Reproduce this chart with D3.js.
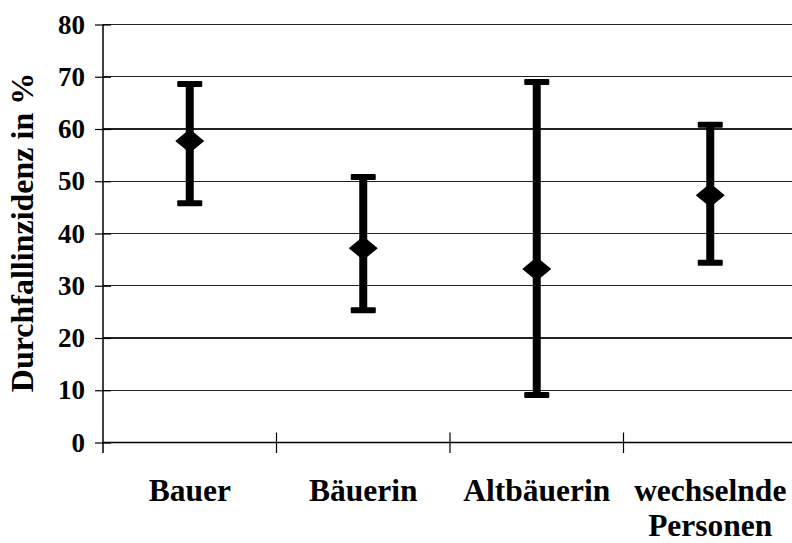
<!DOCTYPE html>
<html><head><meta charset="utf-8">
<script src="https://cdn.jsdelivr.net/npm/d3@7"></script>
<style>body{margin:0;background:#fff}svg{display:block}</style>
</head><body>
<svg id="c" width="792" height="543"></svg>
<script>
const categories = [["Bauer"], ["Bäuerin"], ["Altbäuerin"], ["wechselnde", "Personen"]];
const means = [57.7, 37.2, 33.2, 47.3];
const upper = [68.6, 50.8, 69.0, 60.8];
const lower = [45.8, 25.3, 9.1, 34.4];
const yTicks = [0, 10, 20, 30, 40, 50, 60, 70, 80];
const yTitle = "Durchfallinzidenz in %";

const svg = d3.select("#c");
const font = "'Liberation Serif','Times New Roman',serif";
const x0 = 103, x1 = 797, yTop = 24.5, yBot = 442.5;
const x = d3.scaleBand().domain(d3.range(categories.length)).range([x0, x1]);
const y = d3.scaleLinear().domain([0, 80]).range([yBot, yTop]);

// gridlines
svg.append("g").selectAll("line").data(yTicks.filter(d => d > 0)).join("line")
  .attr("x1", x0).attr("x2", x1).attr("y1", d => y(d)).attr("y2", d => y(d))
  .attr("stroke", "#222").attr("stroke-width", 1.2).attr("shape-rendering", "crispEdges");

// y axis
const ya = svg.append("g").attr("transform", `translate(${x0},0)`)
  .call(d3.axisLeft(y).tickValues(yTicks).tickSize(8).tickPadding(10));
ya.select(".domain").remove();
ya.selectAll(".tick line").attr("x2", 8).attr("x1", -8).attr("stroke", "#000").attr("stroke-width", 1.2);
ya.selectAll(".tick text").attr("font-family", font).attr("font-weight", "bold")
  .attr("font-size", 27).attr("fill", "#000").attr("x", -18);
svg.append("line").attr("x1", x0).attr("x2", x0).attr("y1", yTop).attr("y2", yBot + 10.5)
  .attr("stroke", "#000").attr("stroke-width", 1.5);

// x axis
svg.append("line").attr("x1", x0).attr("x2", x1).attr("y1", yBot).attr("y2", yBot)
  .attr("stroke", "#000").attr("stroke-width", 1.5);
svg.append("g").selectAll("line").data(d3.range(1, categories.length + 1)).join("line")
  .attr("x1", i => x0 + i * x.bandwidth()).attr("x2", i => x0 + i * x.bandwidth())
  .attr("y1", yBot - 10).attr("y2", yBot + 10.5).attr("stroke", "#000").attr("stroke-width", 1.2);

// category labels
const lab = svg.append("g").selectAll("text").data(categories).join("text")
  .attr("text-anchor", "middle").attr("font-family", font).attr("font-weight", "bold")
  .attr("font-size", 31.5).attr("fill", "#000");
lab.each(function(lines, i) {
  const t = d3.select(this);
  lines.forEach((s, j) => t.append("tspan").attr("x", x(i) + x.bandwidth() / 2)
    .attr("y", 501 + j * 34.5).text(s));
});

// y title
svg.append("text").attr("transform", "translate(33,232.5) rotate(-90)")
  .attr("text-anchor", "middle").attr("font-family", font).attr("font-weight", "bold")
  .attr("font-size", 32).attr("fill", "#000").text(yTitle);

// error bars
const cx = i => x(i) + x.bandwidth() / 2;
const g = svg.append("g");
g.selectAll("line.v").data(means).join("line").attr("class", "v")
  .attr("x1", (d, i) => cx(i)).attr("x2", (d, i) => cx(i))
  .attr("y1", (d, i) => y(upper[i])).attr("y2", (d, i) => y(lower[i]))
  .attr("stroke", "#000").attr("stroke-width", 8);
[upper, lower].forEach(arr => {
  g.selectAll(null).data(arr).join("rect")
    .attr("x", (d, i) => cx(i) - 12.5).attr("y", d => y(d) - 3)
    .attr("width", 25).attr("height", 6).attr("rx", 1).attr("fill", "#000");
});
g.selectAll("path").data(means).join("path")
  .attr("transform", (d, i) => `translate(${cx(i)},${y(d)})`)
  .attr("d", "M0,-12L14.5,0L0,12L-14.5,0Z").attr("fill", "#000");
</script>
</body></html>
